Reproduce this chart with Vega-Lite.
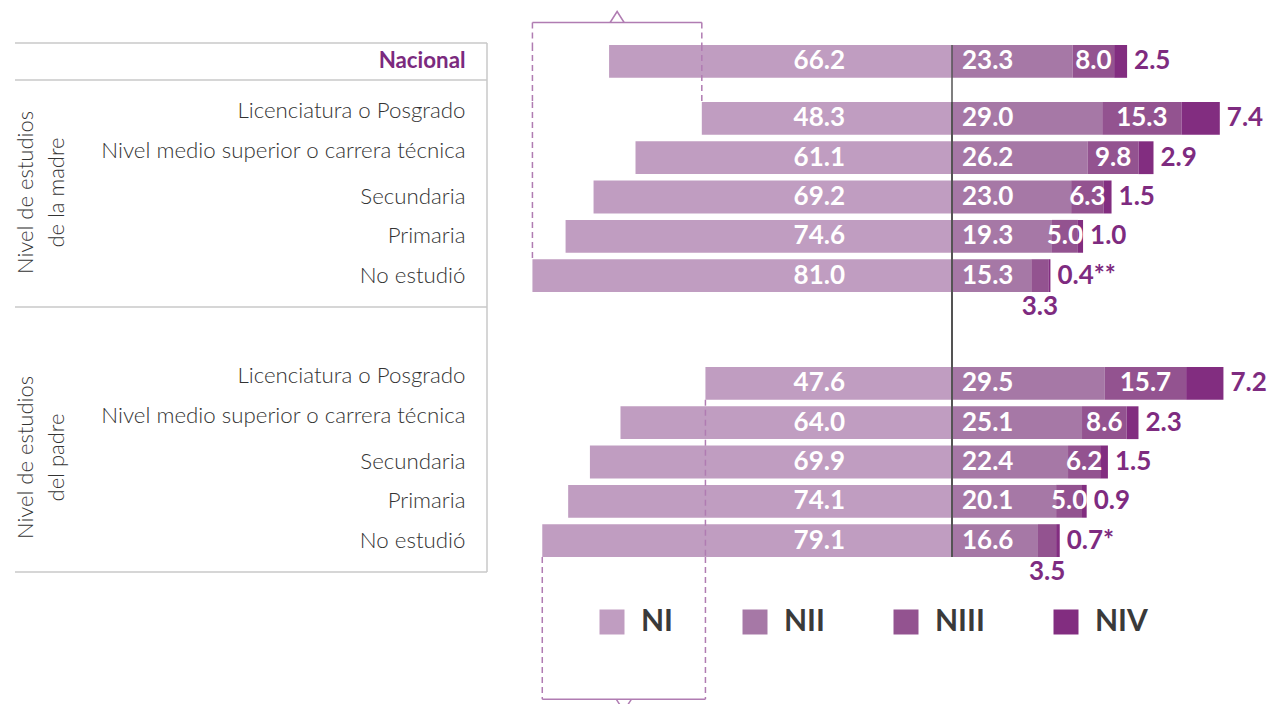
{
  "$schema": "https://vega.github.io/schema/vega-lite/v6.json",
  "background": "white",
  "autosize": {"type": "none"},
  "padding": {"left": 487, "top": 0, "right": 785, "bottom": 704},
  "columns": 2,
  "spacing": 0,
  "bounds": "flush",
  "resolve": {"scale": {"x": "independent", "y": "independent"}},
  "datasets": {
    "d": [
      {"grupo": "Nacional", "nivel": "Nacional", "logro": "NI", "valor": 66.2, "etiqueta": "66.2"},
      {"grupo": "Nacional", "nivel": "Nacional", "logro": "NII", "valor": 23.3, "etiqueta": "23.3"},
      {"grupo": "Nacional", "nivel": "Nacional", "logro": "NIII", "valor": 8.0, "etiqueta": "8.0"},
      {"grupo": "Nacional", "nivel": "Nacional", "logro": "NIV", "valor": 2.5, "etiqueta": "2.5"},
      {"grupo": "madre", "nivel": "Licenciatura o Posgrado", "logro": "NI", "valor": 48.3, "etiqueta": "48.3"},
      {"grupo": "madre", "nivel": "Licenciatura o Posgrado", "logro": "NII", "valor": 29.0, "etiqueta": "29.0"},
      {"grupo": "madre", "nivel": "Licenciatura o Posgrado", "logro": "NIII", "valor": 15.3, "etiqueta": "15.3"},
      {"grupo": "madre", "nivel": "Licenciatura o Posgrado", "logro": "NIV", "valor": 7.4, "etiqueta": "7.4"},
      {"grupo": "madre", "nivel": "Nivel medio superior o carrera técnica", "logro": "NI", "valor": 61.1, "etiqueta": "61.1"},
      {"grupo": "madre", "nivel": "Nivel medio superior o carrera técnica", "logro": "NII", "valor": 26.2, "etiqueta": "26.2"},
      {"grupo": "madre", "nivel": "Nivel medio superior o carrera técnica", "logro": "NIII", "valor": 9.8, "etiqueta": "9.8"},
      {"grupo": "madre", "nivel": "Nivel medio superior o carrera técnica", "logro": "NIV", "valor": 2.9, "etiqueta": "2.9"},
      {"grupo": "madre", "nivel": "Secundaria", "logro": "NI", "valor": 69.2, "etiqueta": "69.2"},
      {"grupo": "madre", "nivel": "Secundaria", "logro": "NII", "valor": 23.0, "etiqueta": "23.0"},
      {"grupo": "madre", "nivel": "Secundaria", "logro": "NIII", "valor": 6.3, "etiqueta": "6.3"},
      {"grupo": "madre", "nivel": "Secundaria", "logro": "NIV", "valor": 1.5, "etiqueta": "1.5"},
      {"grupo": "madre", "nivel": "Primaria", "logro": "NI", "valor": 74.6, "etiqueta": "74.6"},
      {"grupo": "madre", "nivel": "Primaria", "logro": "NII", "valor": 19.3, "etiqueta": "19.3"},
      {"grupo": "madre", "nivel": "Primaria", "logro": "NIII", "valor": 5.0, "etiqueta": "5.0"},
      {"grupo": "madre", "nivel": "Primaria", "logro": "NIV", "valor": 1.0, "etiqueta": "1.0"},
      {"grupo": "madre", "nivel": "No estudió", "logro": "NI", "valor": 81.0, "etiqueta": "81.0"},
      {"grupo": "madre", "nivel": "No estudió", "logro": "NII", "valor": 15.3, "etiqueta": "15.3"},
      {"grupo": "madre", "nivel": "No estudió", "logro": "NIII", "valor": 3.3, "etiqueta": "3.3"},
      {"grupo": "madre", "nivel": "No estudió", "logro": "NIV", "valor": 0.4, "etiqueta": "0.4**"},
      {"grupo": "padre", "nivel": "Licenciatura o Posgrado", "logro": "NI", "valor": 47.6, "etiqueta": "47.6"},
      {"grupo": "padre", "nivel": "Licenciatura o Posgrado", "logro": "NII", "valor": 29.5, "etiqueta": "29.5"},
      {"grupo": "padre", "nivel": "Licenciatura o Posgrado", "logro": "NIII", "valor": 15.7, "etiqueta": "15.7"},
      {"grupo": "padre", "nivel": "Licenciatura o Posgrado", "logro": "NIV", "valor": 7.2, "etiqueta": "7.2"},
      {"grupo": "padre", "nivel": "Nivel medio superior o carrera técnica", "logro": "NI", "valor": 64.0, "etiqueta": "64.0"},
      {"grupo": "padre", "nivel": "Nivel medio superior o carrera técnica", "logro": "NII", "valor": 25.1, "etiqueta": "25.1"},
      {"grupo": "padre", "nivel": "Nivel medio superior o carrera técnica", "logro": "NIII", "valor": 8.6, "etiqueta": "8.6"},
      {"grupo": "padre", "nivel": "Nivel medio superior o carrera técnica", "logro": "NIV", "valor": 2.3, "etiqueta": "2.3"},
      {"grupo": "padre", "nivel": "Secundaria", "logro": "NI", "valor": 69.9, "etiqueta": "69.9"},
      {"grupo": "padre", "nivel": "Secundaria", "logro": "NII", "valor": 22.4, "etiqueta": "22.4"},
      {"grupo": "padre", "nivel": "Secundaria", "logro": "NIII", "valor": 6.2, "etiqueta": "6.2"},
      {"grupo": "padre", "nivel": "Secundaria", "logro": "NIV", "valor": 1.5, "etiqueta": "1.5"},
      {"grupo": "padre", "nivel": "Primaria", "logro": "NI", "valor": 74.1, "etiqueta": "74.1"},
      {"grupo": "padre", "nivel": "Primaria", "logro": "NII", "valor": 20.1, "etiqueta": "20.1"},
      {"grupo": "padre", "nivel": "Primaria", "logro": "NIII", "valor": 5.0, "etiqueta": "5.0"},
      {"grupo": "padre", "nivel": "Primaria", "logro": "NIV", "valor": 0.9, "etiqueta": "0.9"},
      {"grupo": "padre", "nivel": "No estudió", "logro": "NI", "valor": 79.1, "etiqueta": "79.1"},
      {"grupo": "padre", "nivel": "No estudió", "logro": "NII", "valor": 16.6, "etiqueta": "16.6"},
      {"grupo": "padre", "nivel": "No estudió", "logro": "NIII", "valor": 3.5, "etiqueta": "3.5"},
      {"grupo": "padre", "nivel": "No estudió", "logro": "NIV", "valor": 0.7, "etiqueta": "0.7*"}
    ],
    "llaves": [
      {"grupo": "madre", "extremo": 81.0, "desde": "Licenciatura o Posgrado", "hasta": "No estudió"},
      {"grupo": "madre", "extremo": 48.3, "desde": "Licenciatura o Posgrado", "hasta": "Licenciatura o Posgrado"},
      {"grupo": "padre", "extremo": 79.1, "desde": "No estudió", "hasta": "No estudió"},
      {"grupo": "padre", "extremo": 47.6, "desde": "Licenciatura o Posgrado", "hasta": "No estudió"}
    ]
  },
  "concat": [
    {
      "width": 465, "height": 45,
      "layer": [
        {
          "data": {"name": "d"},
          "transform": [{"filter": "datum.grupo == 'Nacional' && datum.logro == 'NI'"}],
          "mark": {"type": "rule", "color": "#c8c8c8", "strokeWidth": 1.5},
          "encoding": {
            "x": {"datum": 180.89, "type": "quantitative", "scale": {"domain": [0, 89.77], "reverse": true, "nice": false, "zero": false}, "axis": null},
            "x2": {"datum": 89.77},
            "y": {"datum": 0.0444, "type": "quantitative", "scale": {"domain": [0, 1], "nice": false}, "axis": null}
          }
        },
        {
          "data": {"name": "d"},
          "transform": [{"filter": "datum.grupo == 'Nacional' && datum.logro == 'NI'"}],
          "mark": {"type": "rule", "color": "#c8c8c8", "strokeWidth": 1.5},
          "encoding": {
            "x": {"datum": 89.77, "type": "quantitative"},
            "y": {"datum": 0.0444, "type": "quantitative"},
            "y2": {"datum": 0}
          }
        },
        {
          "data": {"name": "llaves"},
          "transform": [{"filter": "datum.grupo == 'madre'"}],
          "mark": {"type": "rule", "color": "#b07cb2", "strokeWidth": 1.5, "strokeDash": [6, 4]},
          "encoding": {
            "x": {"field": "extremo", "type": "quantitative"},
            "y": {"datum": 0.5, "type": "quantitative"},
            "y2": {"datum": 0}
          }
        },
        {
          "data": {"name": "llaves"},
          "transform": [{"filter": "datum.grupo == 'madre'"}],
          "mark": {"type": "rule", "color": "#b07cb2", "strokeWidth": 1.5},
          "encoding": {
            "x": {"aggregate": "min", "field": "extremo", "type": "quantitative"},
            "x2": {"aggregate": "max", "field": "extremo"},
            "y": {"datum": 0.5, "type": "quantitative"}
          }
        },
        {
          "data": {"name": "llaves"},
          "transform": [{"filter": "datum.grupo == 'madre'"}],
          "mark": {"type": "point", "shape": "M-1,0L0,-1.57L1,0", "size": 196, "filled": false, "color": "#b07cb2", "strokeWidth": 1.5, "opacity": 1},
          "encoding": {
            "x": {"aggregate": "mean", "field": "extremo", "type": "quantitative"},
            "y": {"datum": 0.5, "type": "quantitative"}
          }
        }
      ]
    },
    {
      "width": 315, "height": 45,
      "data": {"name": "d"},
      "transform": [{"filter": "datum.grupo == 'Nacional' && datum.logro == 'NI'"}],
      "mark": {"type": "point", "opacity": 0},
      "encoding": {}
    },
    {
      "width": 465, "height": 57,
      "layer": [
        {
          "data": {"name": "d"},
          "transform": [{"filter": "datum.grupo == 'Nacional' && datum.logro == 'NI'"}],
          "mark": {"type": "bar"},
          "encoding": {
            "x": {"field": "valor", "type": "quantitative", "scale": {"domain": [0, 89.77], "reverse": true, "nice": false, "zero": false}, "axis": null},
            "y": {"field": "nivel", "type": "nominal", "scale": {"domain": ["Nacional"], "paddingInner": 0.1654, "paddingOuter": 0.3079, "align": 0},
              "axis": {"title": null, "labelFont": "Lato", "labelFontSize": 22.3, "labelFontWeight": "bold", "labelColor": "#7b2a7e", "labelPadding": 22, "ticks": false, "tickSize": 0, "domain": false, "grid": false, "labelLimit": 500}},
            "color": {"field": "logro", "type": "nominal", "scale": {"domain": ["NI", "NII", "NIII", "NIV"], "range": ["#c09dc1", "#a678a6", "#935390", "#822d80"]}, "legend": {"title": null}}
          }
        },
        {
          "data": {"name": "d"},
          "transform": [{"filter": "datum.grupo == 'Nacional' && datum.logro == 'NI'"}],
          "mark": {"type": "text", "font": "Lato", "fontSize": 26, "fontWeight": "bold", "color": "#ffffff", "align": "right", "dx": -107},
          "encoding": {
            "x": {"datum": 0, "type": "quantitative"},
            "y": {"field": "nivel", "type": "nominal"},
            "text": {"field": "etiqueta", "type": "nominal"}
          }
        },
        {
          "data": {"name": "llaves"},
          "transform": [{"filter": "datum.grupo == 'madre'"}],
          "mark": {"type": "rule", "color": "#b07cb2", "strokeWidth": 1.5, "strokeDash": [6, 4]},
          "encoding": {"x": {"field": "extremo", "type": "quantitative"}}
        },
        {
          "data": {"name": "d"},
          "transform": [{"filter": "datum.grupo == 'Nacional' && datum.logro == 'NI'"}],
          "mark": {"type": "rule", "color": "#c8c8c8", "strokeWidth": 1.5},
          "encoding": {
            "x": {"datum": 180.89, "type": "quantitative"},
            "x2": {"datum": 89.77},
            "y": {"field": "nivel", "type": "nominal", "bandPosition": 1.067}
          }
        },
        {
          "data": {"name": "d"},
          "transform": [{"filter": "datum.grupo == 'Nacional' && datum.logro == 'NI'"}],
          "mark": {"type": "rule", "color": "#c8c8c8", "strokeWidth": 1.5},
          "encoding": {"x": {"datum": 89.77, "type": "quantitative"}}
        }
      ]
    },
    {
      "width": 315, "height": 57,
      "data": {"name": "d"},
      "transform": [{"filter": "datum.grupo == 'Nacional' && datum.logro != 'NI'"}],
      "layer": [
        {
          "mark": {"type": "bar"},
          "encoding": {
            "x": {"field": "valor", "type": "quantitative", "stack": "zero", "scale": {"domain": [0, 60.81], "nice": false, "zero": false}, "axis": null},
            "y": {"field": "nivel", "type": "nominal", "scale": {"domain": ["Nacional"], "paddingInner": 0.1654, "paddingOuter": 0.3079, "align": 0}, "axis": null},
            "color": {"field": "logro", "type": "nominal", "scale": {"domain": ["NI", "NII", "NIII", "NIV"], "range": ["#c09dc1", "#a678a6", "#935390", "#822d80"]}, "legend": {"title": null}},
            "order": {"field": "logro", "sort": "ascending"}
          }
        },
        {
          "transform": [{"filter": "datum.logro == 'NII'"}],
          "mark": {"type": "text", "font": "Lato", "fontSize": 26, "fontWeight": "bold", "color": "#ffffff", "align": "left", "dx": 10},
          "encoding": {
            "x": {"datum": 0, "type": "quantitative"},
            "y": {"field": "nivel", "type": "nominal"},
            "text": {"field": "etiqueta", "type": "nominal"}
          }
        },
        {
          "mark": {"type": "text", "font": "Lato", "fontSize": 26, "fontWeight": "bold", "color": "#ffffff", "align": "center"},
          "encoding": {
            "x": {"field": "valor", "type": "quantitative", "stack": "zero", "bandPosition": 0.5},
            "y": {"field": "nivel", "type": "nominal"},
            "detail": {"field": "logro", "type": "nominal"},
            "order": {"field": "logro", "sort": "ascending"},
            "text": {"condition": {"test": "datum.logro == 'NIII' && datum.nivel != 'No estudió'", "field": "etiqueta", "type": "nominal"}, "value": ""}
          }
        },
        {
          "mark": {"type": "text", "font": "Lato", "fontSize": 26, "fontWeight": "bold", "color": "#7e2b80", "align": "left", "dx": 7},
          "encoding": {
            "x": {"field": "valor", "type": "quantitative", "stack": "zero"},
            "y": {"field": "nivel", "type": "nominal"},
            "detail": {"field": "logro", "type": "nominal"},
            "order": {"field": "logro", "sort": "ascending"},
            "text": {"condition": {"test": "datum.logro == 'NIV'", "field": "etiqueta", "type": "nominal"}, "value": ""}
          }
        },
        {
          "transform": [{"filter": "datum.logro == 'NII'"}],
          "mark": {"type": "rule", "color": "#555555", "strokeWidth": 1.5},
          "encoding": {"x": {"datum": 0, "type": "quantitative"}}
        }
      ]
    },
    {
      "width": 465, "height": 265,
      "layer": [
        {
          "data": {"name": "d"},
          "transform": [{"filter": "datum.grupo == 'madre' && datum.logro == 'NI'"}],
          "mark": {"type": "bar"},
          "encoding": {
            "x": {"field": "valor", "type": "quantitative", "scale": {"domain": [0, 89.77], "reverse": true, "nice": false, "zero": false}, "axis": null},
            "y": {"field": "nivel", "type": "nominal",
              "scale": {"domain": ["Licenciatura o Posgrado", "Nivel medio superior o carrera técnica", "Secundaria", "Primaria", "No estudió"], "paddingInner": 0.1654, "paddingOuter": 0.954, "align": 0},
              "axis": {"title": ["Nivel de estudios", "de la madre"], "labelFont": "Lato", "labelFontSize": 22.3, "labelFontWeight": 300, "labelColor": "#333333", "labelPadding": 22, "ticks": false, "tickSize": 0, "domain": false, "grid": false, "labelLimit": 500,
                "labelOffset": {"condition": {"test": "datum.value == 'Licenciatura o Posgrado' || datum.value == 'Nivel medio superior o carrera técnica'", "value": -7}, "value": 0},
                "titleFont": "Lato", "titleFontSize": 22, "titleFontWeight": 300, "titleColor": "#333333", "titleLineHeight": 31.6, "titleX": -455, "titleY": 90, "titleBaseline": "alphabetic", "titleAngle": 270}},
            "color": {"field": "logro", "type": "nominal", "scale": {"domain": ["NI", "NII", "NIII", "NIV"], "range": ["#c09dc1", "#a678a6", "#935390", "#822d80"]}, "legend": {"title": null}}
          }
        },
        {
          "data": {"name": "d"},
          "transform": [{"filter": "datum.grupo == 'madre' && datum.logro == 'NI'"}],
          "mark": {"type": "text", "font": "Lato", "fontSize": 26, "fontWeight": "bold", "color": "#ffffff", "align": "right", "dx": -107},
          "encoding": {
            "x": {"datum": 0, "type": "quantitative"},
            "y": {"field": "nivel", "type": "nominal"},
            "text": {"field": "etiqueta", "type": "nominal"}
          }
        },
        {
          "data": {"name": "llaves"},
          "transform": [{"filter": "datum.grupo == 'madre'"}],
          "mark": {"type": "rule", "color": "#b07cb2", "strokeWidth": 1.5, "strokeDash": [6, 4]},
          "encoding": {
            "x": {"field": "extremo", "type": "quantitative"},
            "y": {"field": "desde", "type": "nominal", "bandPosition": 0},
            "y2": {"field": "hasta", "bandPosition": 0}
          }
        },
        {
          "data": {"name": "d"},
          "transform": [{"filter": "datum.grupo == 'madre' && datum.logro == 'NI' && datum.nivel == 'No estudió'"}],
          "mark": {"type": "rule", "color": "#c8c8c8", "strokeWidth": 1.5},
          "encoding": {
            "x": {"datum": 180.89, "type": "quantitative"},
            "x2": {"datum": 89.77},
            "y": {"field": "nivel", "type": "nominal", "bandPosition": 1.457}
          }
        },
        {
          "data": {"name": "d"},
          "transform": [{"filter": "datum.grupo == 'madre' && datum.logro == 'NI' && datum.nivel == 'No estudió'"}],
          "mark": {"type": "rule", "color": "#c8c8c8", "strokeWidth": 1.5},
          "encoding": {"x": {"datum": 89.77, "type": "quantitative"}}
        }
      ]
    },
    {
      "width": 315, "height": 265,
      "data": {"name": "d"},
      "transform": [{"filter": "datum.grupo == 'madre' && datum.logro != 'NI'"}],
      "layer": [
        {
          "mark": {"type": "bar"},
          "encoding": {
            "x": {"field": "valor", "type": "quantitative", "stack": "zero", "scale": {"domain": [0, 60.81], "nice": false, "zero": false}, "axis": null},
            "y": {"field": "nivel", "type": "nominal", "scale": {"domain": ["Licenciatura o Posgrado", "Nivel medio superior o carrera técnica", "Secundaria", "Primaria", "No estudió"], "paddingInner": 0.1654, "paddingOuter": 0.954, "align": 0}, "axis": null},
            "color": {"field": "logro", "type": "nominal", "scale": {"domain": ["NI", "NII", "NIII", "NIV"], "range": ["#c09dc1", "#a678a6", "#935390", "#822d80"]}, "legend": {"title": null}},
            "order": {"field": "logro", "sort": "ascending"}
          }
        },
        {
          "transform": [{"filter": "datum.logro == 'NII'"}],
          "mark": {"type": "text", "font": "Lato", "fontSize": 26, "fontWeight": "bold", "color": "#ffffff", "align": "left", "dx": 10},
          "encoding": {
            "x": {"datum": 0, "type": "quantitative"},
            "y": {"field": "nivel", "type": "nominal"},
            "text": {"field": "etiqueta", "type": "nominal"}
          }
        },
        {
          "mark": {"type": "text", "font": "Lato", "fontSize": 26, "fontWeight": "bold", "color": "#ffffff", "align": "center"},
          "encoding": {
            "x": {"field": "valor", "type": "quantitative", "stack": "zero", "bandPosition": 0.5},
            "y": {"field": "nivel", "type": "nominal"},
            "detail": {"field": "logro", "type": "nominal"},
            "order": {"field": "logro", "sort": "ascending"},
            "text": {"condition": {"test": "datum.logro == 'NIII' && datum.nivel != 'No estudió'", "field": "etiqueta", "type": "nominal"}, "value": ""}
          }
        },
        {
          "mark": {"type": "text", "font": "Lato", "fontSize": 26, "fontWeight": "bold", "color": "#7e2b80", "align": "center", "dy": 31},
          "encoding": {
            "x": {"field": "valor", "type": "quantitative", "stack": "zero", "bandPosition": 0.5},
            "y": {"field": "nivel", "type": "nominal"},
            "detail": {"field": "logro", "type": "nominal"},
            "order": {"field": "logro", "sort": "ascending"},
            "text": {"condition": {"test": "datum.logro == 'NIII' && datum.nivel == 'No estudió'", "field": "etiqueta", "type": "nominal"}, "value": ""}
          }
        },
        {
          "mark": {"type": "text", "font": "Lato", "fontSize": 26, "fontWeight": "bold", "color": "#7e2b80", "align": "left", "dx": 7},
          "encoding": {
            "x": {"field": "valor", "type": "quantitative", "stack": "zero"},
            "y": {"field": "nivel", "type": "nominal"},
            "detail": {"field": "logro", "type": "nominal"},
            "order": {"field": "logro", "sort": "ascending"},
            "text": {"condition": {"test": "datum.logro == 'NIV'", "field": "etiqueta", "type": "nominal"}, "value": ""}
          }
        },
        {
          "transform": [{"filter": "datum.logro == 'NII'"}],
          "mark": {"type": "rule", "color": "#555555", "strokeWidth": 1.5},
          "encoding": {"x": {"datum": 0, "type": "quantitative"}}
        }
      ]
    },
    {
      "width": 465, "height": 190,
      "layer": [
        {
          "data": {"name": "d"},
          "transform": [{"filter": "datum.grupo == 'padre' && datum.logro == 'NI'"}],
          "mark": {"type": "bar"},
          "encoding": {
            "x": {"field": "valor", "type": "quantitative", "scale": {"domain": [0, 89.77], "reverse": true, "nice": false, "zero": false}, "axis": null},
            "y": {"field": "nivel", "type": "nominal",
              "scale": {"domain": ["Licenciatura o Posgrado", "Nivel medio superior o carrera técnica", "Secundaria", "Primaria", "No estudió"], "paddingInner": 0.1654, "paddingOuter": 0, "align": 0},
              "axis": {"title": ["Nivel de estudios", "del padre"], "labelFont": "Lato", "labelFontSize": 22.3, "labelFontWeight": 300, "labelColor": "#333333", "labelPadding": 22, "ticks": false, "tickSize": 0, "domain": false, "grid": false, "labelLimit": 500,
                "labelOffset": {"condition": {"test": "datum.value == 'Licenciatura o Posgrado' || datum.value == 'Nivel medio superior o carrera técnica'", "value": -7}, "value": 0},
                "titleFont": "Lato", "titleFontSize": 22, "titleFontWeight": 300, "titleColor": "#333333", "titleLineHeight": 31.6, "titleX": -455, "titleY": 90, "titleBaseline": "alphabetic", "titleAngle": 270}},
            "color": {"field": "logro", "type": "nominal", "scale": {"domain": ["NI", "NII", "NIII", "NIV"], "range": ["#c09dc1", "#a678a6", "#935390", "#822d80"]}, "legend": {"title": null}}
          }
        },
        {
          "data": {"name": "d"},
          "transform": [{"filter": "datum.grupo == 'padre' && datum.logro == 'NI'"}],
          "mark": {"type": "text", "font": "Lato", "fontSize": 26, "fontWeight": "bold", "color": "#ffffff", "align": "right", "dx": -107},
          "encoding": {
            "x": {"datum": 0, "type": "quantitative"},
            "y": {"field": "nivel", "type": "nominal"},
            "text": {"field": "etiqueta", "type": "nominal"}
          }
        },
        {
          "data": {"name": "llaves"},
          "transform": [{"filter": "datum.grupo == 'padre'"}],
          "mark": {"type": "rule", "color": "#b07cb2", "strokeWidth": 1.5, "strokeDash": [6, 4]},
          "encoding": {
            "x": {"field": "extremo", "type": "quantitative"},
            "y": {"field": "desde", "type": "nominal", "bandPosition": 1},
            "y2": {"field": "hasta", "bandPosition": 1}
          }
        },
        {
          "data": {"name": "d"},
          "transform": [{"filter": "datum.grupo == 'padre' && datum.logro == 'NI' && datum.nivel == 'No estudió'"}],
          "mark": {"type": "rule", "color": "#c8c8c8", "strokeWidth": 1.5},
          "encoding": {"x": {"datum": 89.77, "type": "quantitative"}}
        }
      ]
    },
    {
      "width": 315, "height": 190,
      "data": {"name": "d"},
      "transform": [{"filter": "datum.grupo == 'padre' && datum.logro != 'NI'"}],
      "layer": [
        {
          "mark": {"type": "bar"},
          "encoding": {
            "x": {"field": "valor", "type": "quantitative", "stack": "zero", "scale": {"domain": [0, 60.81], "nice": false, "zero": false}, "axis": null},
            "y": {"field": "nivel", "type": "nominal", "scale": {"domain": ["Licenciatura o Posgrado", "Nivel medio superior o carrera técnica", "Secundaria", "Primaria", "No estudió"], "paddingInner": 0.1654, "paddingOuter": 0, "align": 0}, "axis": null},
            "color": {"field": "logro", "type": "nominal", "scale": {"domain": ["NI", "NII", "NIII", "NIV"], "range": ["#c09dc1", "#a678a6", "#935390", "#822d80"]}, "legend": {"title": null}},
            "order": {"field": "logro", "sort": "ascending"}
          }
        },
        {
          "transform": [{"filter": "datum.logro == 'NII'"}],
          "mark": {"type": "text", "font": "Lato", "fontSize": 26, "fontWeight": "bold", "color": "#ffffff", "align": "left", "dx": 10},
          "encoding": {
            "x": {"datum": 0, "type": "quantitative"},
            "y": {"field": "nivel", "type": "nominal"},
            "text": {"field": "etiqueta", "type": "nominal"}
          }
        },
        {
          "mark": {"type": "text", "font": "Lato", "fontSize": 26, "fontWeight": "bold", "color": "#ffffff", "align": "center"},
          "encoding": {
            "x": {"field": "valor", "type": "quantitative", "stack": "zero", "bandPosition": 0.5},
            "y": {"field": "nivel", "type": "nominal"},
            "detail": {"field": "logro", "type": "nominal"},
            "order": {"field": "logro", "sort": "ascending"},
            "text": {"condition": {"test": "datum.logro == 'NIII' && datum.nivel != 'No estudió'", "field": "etiqueta", "type": "nominal"}, "value": ""}
          }
        },
        {
          "mark": {"type": "text", "font": "Lato", "fontSize": 26, "fontWeight": "bold", "color": "#7e2b80", "align": "center", "dy": 31},
          "encoding": {
            "x": {"field": "valor", "type": "quantitative", "stack": "zero", "bandPosition": 0.5},
            "y": {"field": "nivel", "type": "nominal"},
            "detail": {"field": "logro", "type": "nominal"},
            "order": {"field": "logro", "sort": "ascending"},
            "text": {"condition": {"test": "datum.logro == 'NIII' && datum.nivel == 'No estudió'", "field": "etiqueta", "type": "nominal"}, "value": ""}
          }
        },
        {
          "mark": {"type": "text", "font": "Lato", "fontSize": 26, "fontWeight": "bold", "color": "#7e2b80", "align": "left", "dx": 7},
          "encoding": {
            "x": {"field": "valor", "type": "quantitative", "stack": "zero"},
            "y": {"field": "nivel", "type": "nominal"},
            "detail": {"field": "logro", "type": "nominal"},
            "order": {"field": "logro", "sort": "ascending"},
            "text": {"condition": {"test": "datum.logro == 'NIV'", "field": "etiqueta", "type": "nominal"}, "value": ""}
          }
        },
        {
          "transform": [{"filter": "datum.logro == 'NII'"}],
          "mark": {"type": "rule", "color": "#555555", "strokeWidth": 1.5},
          "encoding": {"x": {"datum": 0, "type": "quantitative"}}
        }
      ]
    },
    {
      "width": 465, "height": 147,
      "layer": [
        {
          "data": {"name": "llaves"},
          "transform": [{"filter": "datum.grupo == 'padre'"}],
          "mark": {"type": "rule", "color": "#b07cb2", "strokeWidth": 1.5, "strokeDash": [6, 4]},
          "encoding": {
            "x": {"field": "extremo", "type": "quantitative", "scale": {"domain": [0, 89.77], "reverse": true, "nice": false, "zero": false}, "axis": null},
            "y": {"datum": 1, "type": "quantitative", "scale": {"domain": [0, 1], "nice": false}, "axis": null},
            "y2": {"datum": 0.032}
          }
        },
        {
          "data": {"name": "llaves"},
          "transform": [{"filter": "datum.grupo == 'padre'"}],
          "mark": {"type": "rule", "color": "#b07cb2", "strokeWidth": 1.5},
          "encoding": {
            "x": {"aggregate": "min", "field": "extremo", "type": "quantitative"},
            "x2": {"aggregate": "max", "field": "extremo"},
            "y": {"datum": 0.032, "type": "quantitative"}
          }
        },
        {
          "data": {"name": "llaves"},
          "transform": [{"filter": "datum.grupo == 'padre'"}],
          "mark": {"type": "point", "shape": "M-1,0L0,1.57L1,0", "size": 225, "filled": false, "color": "#b07cb2", "strokeWidth": 1.5, "opacity": 1},
          "encoding": {
            "x": {"aggregate": "mean", "field": "extremo", "type": "quantitative"},
            "y": {"datum": 0.032, "type": "quantitative"}
          }
        },
        {
          "data": {"name": "d"},
          "transform": [{"filter": "datum.grupo == 'Nacional' && datum.logro == 'NI'"}],
          "mark": {"type": "rule", "color": "#c8c8c8", "strokeWidth": 1.5},
          "encoding": {
            "x": {"datum": 180.89, "type": "quantitative"},
            "x2": {"datum": 89.77},
            "y": {"datum": 0.898, "type": "quantitative"}
          }
        },
        {
          "data": {"name": "d"},
          "transform": [{"filter": "datum.grupo == 'Nacional' && datum.logro == 'NI'"}],
          "mark": {"type": "rule", "color": "#c8c8c8", "strokeWidth": 1.5},
          "encoding": {
            "x": {"datum": 89.77, "type": "quantitative"},
            "y": {"datum": 1, "type": "quantitative"},
            "y2": {"datum": 0.898}
          }
        }
      ]
    },
    {
      "width": 315, "height": 147,
      "data": {"name": "d"},
      "transform": [{"filter": "datum.grupo == 'Nacional' && datum.logro == 'NI'"}],
      "mark": {"type": "point", "opacity": 0},
      "encoding": {}
    }
  ],
  "config": {
    "view": {"stroke": null},
    "legend": {
      "orient": "none", "legendX": 110, "legendY": 607, "direction": "horizontal", "padding": 0,
      "symbolType": "square", "symbolSize": 625, "symbolStrokeWidth": 0, "symbolOpacity": 1,
      "labelFont": "Lato", "labelFontSize": 30, "labelFontWeight": "bold", "labelColor": "#3a3a3a",
      "labelOffset": 14, "columnPadding": 66
    }
  }
}
